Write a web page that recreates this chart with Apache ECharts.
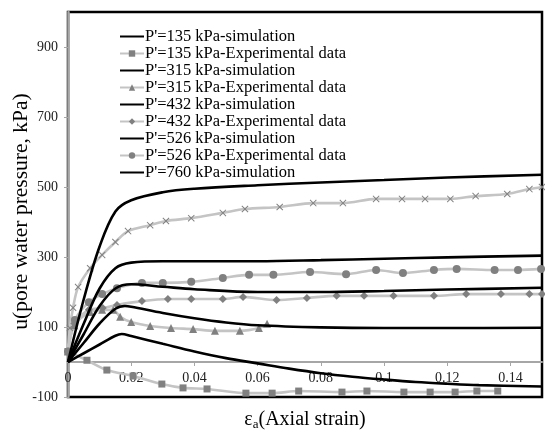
<!DOCTYPE html>
<html>
<head>
<meta charset="utf-8">
<script src="https://cdn.jsdelivr.net/npm/echarts@6/dist/echarts.min.js"></script>
<style>
html, body { margin: 0; padding: 0; background: #fff; }
#main { width: 545px; height: 432px; }
</style>
</head>
<body>
<div id="main"></div>
<script>
// ---------------- data ----------------
// simulations (black lines)
var sim135X = [0, 0.005, 0.01, 0.015, 0.017, 0.02, 0.03, 0.04, 0.05, 0.06, 0.07, 0.08, 0.09, 0.1, 0.11, 0.12, 0.13, 0.15];
var sim135Y = [0, 25, 50, 75, 80, 74, 52, 30, 11, -4, -19, -32, -42, -50, -57, -62, -66, -70];

var sim315X = [0, 0.005, 0.01, 0.015, 0.018, 0.02, 0.03, 0.04, 0.05, 0.06, 0.08, 0.1, 0.12, 0.15];
var sim315Y = [0, 55, 110, 152, 160, 158, 140, 125, 113, 105, 99, 97, 97, 98];

var sim432X = [0, 0.005, 0.01, 0.015, 0.02, 0.03, 0.04, 0.06, 0.08, 0.1, 0.12, 0.15];
var sim432Y = [0, 80, 160, 210, 222, 215, 208, 200, 200, 203, 207, 212];

var sim526X = [0, 0.005, 0.01, 0.015, 0.02, 0.03, 0.06, 0.08, 0.1, 0.12, 0.15];
var sim526Y = [0, 110, 210, 268, 284, 288, 288, 291, 295, 299, 304];

var sim760X = [0, 0.005, 0.01, 0.015, 0.02, 0.03, 0.04, 0.06, 0.08, 0.1, 0.12, 0.15];
var sim760Y = [0, 180, 330, 430, 462, 485, 495, 505, 513, 520, 527, 535];

// experimental data (grey lines with markers)
var exp135X = [0, 0.006, 0.0123, 0.0206, 0.0297, 0.0364, 0.044, 0.0563, 0.0646, 0.073, 0.0867, 0.0946, 0.1063, 0.1146, 0.1225, 0.1294, 0.136];
var exp135Y = [30, 5, -23, -40, -63, -74, -77, -89, -89, -83, -86, -83, -86, -86, -86, -83, -83];

var exp315X = [0, 0.002, 0.007, 0.0108, 0.0143, 0.0165, 0.02, 0.026, 0.0326, 0.0396, 0.0465, 0.0544, 0.0604, 0.063];
var exp315Y = [30, 105, 143, 149, 149, 129, 114, 103, 97, 94, 89, 89, 97, 109];

var exp432X = [0, 0.002, 0.0066, 0.011, 0.0155, 0.0234, 0.0316, 0.039, 0.049, 0.0554, 0.066, 0.0756, 0.085, 0.0937, 0.103, 0.1158, 0.126, 0.137, 0.146, 0.15];
var exp432Y = [30, 110, 149, 154, 163, 174, 180, 180, 180, 186, 177, 183, 189, 189, 189, 189, 194, 194, 194, 194];

var exp526X = [0, 0.0022, 0.0066, 0.0108, 0.0155, 0.0234, 0.03, 0.039, 0.049, 0.0573, 0.065, 0.0766, 0.088, 0.0975, 0.106, 0.1158, 0.123, 0.135, 0.1424, 0.1497];
var exp526Y = [30, 120, 171, 194, 211, 226, 226, 229, 240, 249, 249, 257, 251, 263, 254, 263, 266, 263, 263, 266];

var exp760X = [0, 0.0006, 0.0016, 0.0032, 0.007, 0.0108, 0.015, 0.019, 0.026, 0.031, 0.039, 0.049, 0.056, 0.067, 0.0776, 0.087, 0.0975, 0.1057, 0.113, 0.121, 0.129, 0.139, 0.146, 0.15];
var exp760Y = [30, 97, 155, 214, 268, 306, 343, 374, 391, 403, 411, 426, 437, 443, 454, 454, 466, 466, 466, 466, 474, 480, 494, 500];

var legendNames = [
	"P'=135 kPa-simulation", "P'=135 kPa-Experimental data",
	"P'=315 kPa-simulation", "P'=315 kPa-Experimental data",
	"P'=432 kPa-simulation", "P'=432 kPa-Experimental data",
	"P'=526 kPa-simulation", "P'=526 kPa-Experimental data",
	"P'=760 kPa-simulation"
];

// ---------------- helpers ----------------
function pairs(xs, ys) {
	var out = [];
	for (var i = 0; i < xs.length; i++) out.push([xs[i], ys[i]]);
	return out;
}
var SERIF = 'Liberation Serif';
var crossPath = 'path://M1,0L5,4L9,0L10,1L6,5L10,9L9,10L5,6L1,10L0,9L4,5L0,1Z';

function simSeries(name, xs, ys) {
	return {
		name : name,
		type : 'line',
		smooth : 0.35,
		showSymbol : false,
		symbol : 'none',
		z : 3,
		lineStyle : { color : '#000', width : 2.6 },
		itemStyle : { color : '#000' },
		data : pairs(xs, ys)
	};
}
function expSeries(name, xs, ys, symbol, size) {
	return {
		name : name,
		type : 'line',
		smooth : 0.3,
		symbol : symbol,
		symbolSize : size,
		z : 2,
		lineStyle : { color : '#c4c4c4', width : 2.6 },
		itemStyle : { color : '#808080' },
		data : pairs(xs, ys)
	};
}

// legend entries: simulations show a plain black line (hide the symbol)
var legendData = legendNames.map(function(n) {
	if (n.indexOf('simulation') >= 0) {
		return { name : n, itemStyle : { opacity : 0 } };
	}
	return { name : n };
});

// the x axis sits on u = 0, i.e. 100 kPa above the bottom edge (385 px for 1100 kPa)
var zeroOffset = -35;

var option = {
	backgroundColor : '#fff',
	animation : false,
	textStyle : { fontFamily : SERIF },
	grid : {
		left : 68,
		right : 3,
		top : 12,
		bottom : 35,
		outerBoundsMode : 'none',
		show : true,
		borderColor : '#000',
		borderWidth : 2.5
	},
	legend : {
		orient : 'vertical',
		left : 119,
		top : 28,
		padding : 0,
		itemGap : 0,
		itemWidth : 24,
		itemHeight : 8,
		data : legendData,
		textStyle : { fontFamily : SERIF, fontSize : 16.5, lineHeight : 17, color : '#000', padding : [0, 0, 0, -4] }
	},
	xAxis : {
		type : 'value',
		min : 0,
		max : 0.15,
		interval : 0.02,
		offset : zeroOffset,
		name : '{e|ε}{s|a}{e|(Axial strain)}',
		nameLocation : 'middle',
		nameGap : 46,
		nameMoveOverlap : false,
		nameTextStyle : {
			rich : {
				e : { fontFamily : SERIF, fontSize : 20, color : '#000' },
				s : { fontFamily : SERIF, fontSize : 13, color : '#000', padding : [10, 0, 0, 0] }
			}
		},
		axisLine : { onZero : false, lineStyle : { color : '#a6a6a6', width : 2 } },
		axisTick : { lineStyle : { color : '#a6a6a6' }, length : 4 },
		axisLabel : { fontFamily : SERIF, fontSize : 14, color : '#222', margin : 9, showMaxLabel : false },
		splitLine : { show : false }
	},
	yAxis : {
		type : 'value',
		min : -100,
		max : 1000,
		interval : 200,
		name : 'u(pore water pressure, kPa)',
		nameLocation : 'middle',
		nameGap : 36,
		nameMoveOverlap : false,
		nameTextStyle : { fontFamily : SERIF, fontSize : 21.5, color : '#000', padding : [0, 14, 0, 0] },
		axisLine : { show : true, lineStyle : { color : '#a6a6a6', width : 2.5 } },
		axisTick : { show : true, lineStyle : { color : '#a6a6a6' }, length : 4 },
		axisLabel : { fontFamily : SERIF, fontSize : 14, color : '#222', margin : 10, showMaxLabel : false },
		splitLine : { show : false }
	},
	series : [
		expSeries(legendNames[1], exp135X, exp135Y, 'rect', 7),
		expSeries(legendNames[3], exp315X, exp315Y, 'triangle', 8),
		expSeries(legendNames[5], exp432X, exp432Y, 'diamond', 8),
		expSeries(legendNames[7], exp526X, exp526Y, 'circle', 8),
		expSeries("P'=760 kPa-Experimental data", exp760X, exp760Y, crossPath, 7),
		simSeries(legendNames[0], sim135X, sim135Y),
		simSeries(legendNames[2], sim315X, sim315Y),
		simSeries(legendNames[4], sim432X, sim432Y),
		simSeries(legendNames[6], sim526X, sim526Y),
		simSeries(legendNames[8], sim760X, sim760Y)
	]
};

var chart = echarts.init(document.getElementById('main'));
chart.setOption(option);
</script>
</body>
</html>
